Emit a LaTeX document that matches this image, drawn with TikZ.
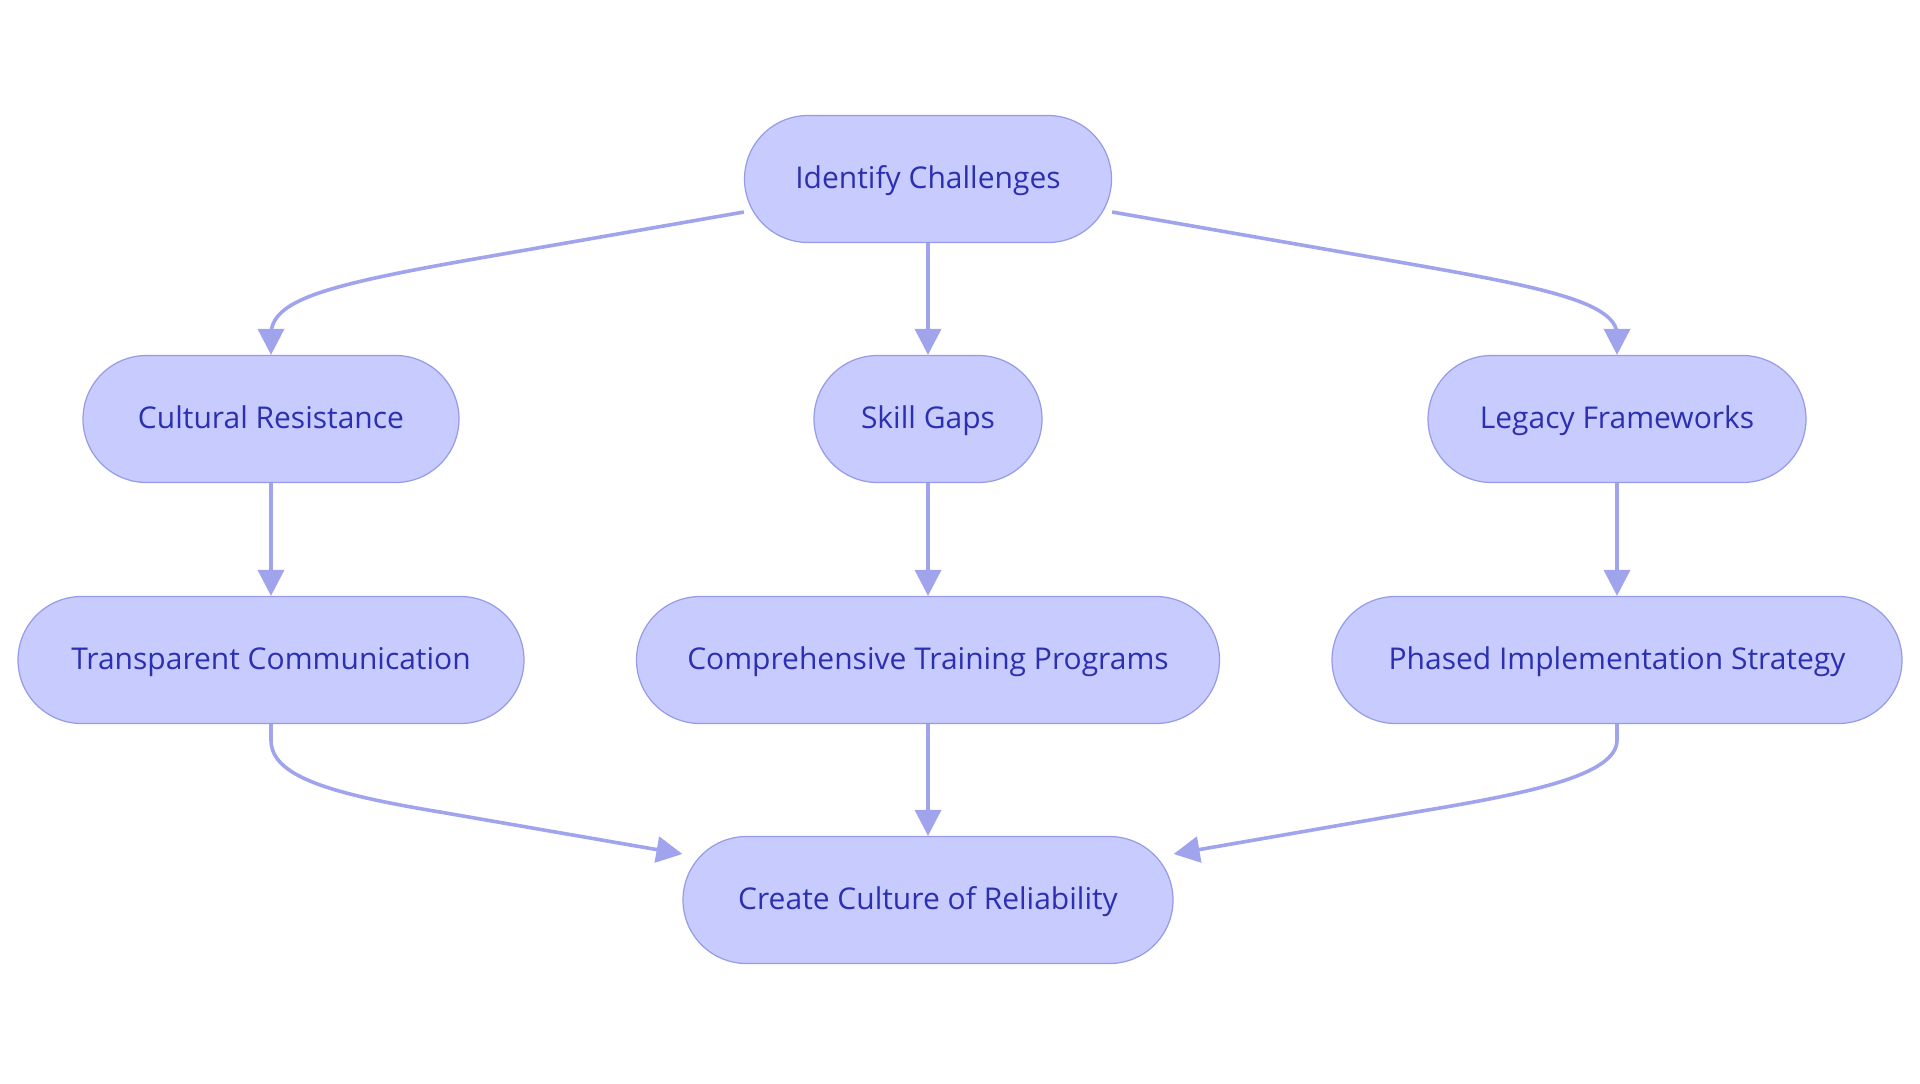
\documentclass[tikz,border=0pt]{standalone}
\usepackage{fontspec}
\setmainfont{Open Sans}
\usetikzlibrary{arrows.meta}
\definecolor{nodefill}{RGB}{199,203,254}
\definecolor{nodeline}{RGB}{150,155,232}
\definecolor{nodetext}{RGB}{44,48,176}
\definecolor{edgecol}{RGB}{160,164,236}
\tikzset{
  stadium/.style={draw=nodeline, fill=nodefill, line width=0.6pt, text=nodetext,
    rounded corners=31.75pt, minimum height=63.5pt, inner sep=0pt,
    text height=12pt, text depth=3pt,
    font=\fontsize{15}{18}\selectfont},
  flow/.style={draw=edgecol, line width=1.8pt,
    -{Triangle[length=13pt,width=13pt]}},
}
\begin{document}
\begin{tikzpicture}[x=0.5pt,y=-0.5pt]
\useasboundingbox (0,0) rectangle (1920,1083);
\node[stadium, minimum width=183.5pt] (ic) at (928,179) {Identify Challenges};
\node[stadium, minimum width=188pt] (cr) at (271,419) {Cultural Resistance};
\node[stadium, minimum width=114pt] (sg) at (928,419) {Skill Gaps};
\node[stadium, minimum width=189pt] (lf) at (1617,419) {Legacy Frameworks};
\node[stadium, minimum width=253pt] (tc) at (271,660) {Transparent Communication};
\node[stadium, minimum width=291.5pt] (ctp) at (928,660) {Comprehensive Training Programs};
\node[stadium, minimum width=285pt] (pis) at (1617,660) {Phased Implementation Strategy};
\node[stadium, minimum width=245pt] (ccr) at (928,900) {Create Culture of Reliability};

\draw[flow] ([yshift=-16.5pt]ic.west) -- (480,258) .. controls (325,285) and (271,300) .. (271,335) -- (cr.north);
\draw[flow] ([yshift=-16.5pt]ic.east) -- (1376,258) .. controls (1531,285) and (1617,300) .. (1617,335) -- (lf.north);
\draw[flow] (ic.south) -- (sg.north);
\draw[flow] (cr.south) -- (tc.north);
\draw[flow] (sg.south) -- (ctp.north);
\draw[flow] (lf.south) -- (pis.north);
\draw[flow] (ctp.south) -- (ccr.north);
\draw[flow] (tc.south) -- (271,740) .. controls (271,775) and (325,793) .. (440,812) -- ([yshift=23pt]ccr.west);
\draw[flow] (pis.south) -- (1617,740) .. controls (1617,775) and (1531,793) .. (1416,812) -- ([yshift=23pt]ccr.east);
\end{tikzpicture}
\end{document}
